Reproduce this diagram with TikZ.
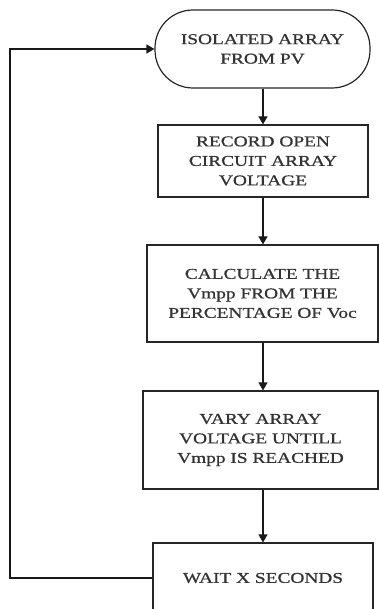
\documentclass[tikz,border=0pt]{standalone}
\usepackage{fontspec}
\setmainfont{Liberation Serif}[FakeStretch=1.29,FakeBold=0.8]
\usetikzlibrary{arrows.meta}
\begin{document}
\begin{tikzpicture}[x=1pt,y=1pt,
  every node/.style={font=\fontsize{15}{19.5}\selectfont, text=black!80, align=center, inner sep=0pt},
  box/.style={draw=black!85, line width=1.2pt, rectangle},
  term/.style={draw=black!85, line width=1.2pt, rectangle, rounded corners=38pt},
  flow/.style={draw=black!90, line width=1.2pt, -{Triangle[length=8pt,width=9pt]}}]
\useasboundingbox (0,0) rectangle (379,-609);
\node[term, minimum width=215pt, minimum height=78pt] (t) at (262.5,-49) {ISOLATED ARRAY\\FROM PV};
\node[box, minimum width=210pt, minimum height=72pt] (b1) at (263,-161) {RECORD OPEN\\CIRCUIT ARRAY\\VOLTAGE};
\node[box, minimum width=231pt, minimum height=97pt] (b2) at (262.5,-293.5) {CALCULATE THE\\Vmpp FROM THE\\PERCENTAGE OF Voc};
\node[box, minimum width=235pt, minimum height=98pt] (b3) at (260.5,-440) {VARY ARRAY\\VOLTAGE UNTILL\\Vmpp IS REACHED};
\node[box, minimum width=220pt, minimum height=70pt] (b4) at (263,-578) {WAIT X SECONDS};
\coordinate (c1) at (10,-578);
\coordinate (c2) at (10,-49);
\draw[flow] (t.south -| b1.north) -- (b1.north);
\draw[flow] (b1.south) -- (b1.south |- b2.north);
\draw[flow] (b1.south |- b2.south) -- (b1.south |- b3.north);
\draw[flow] (b3.south -| b4.north) -- (b4.north);
\draw[flow] (b4.west) -- (c1) -- (c2) -- (t.west);
\end{tikzpicture}
\end{document}
